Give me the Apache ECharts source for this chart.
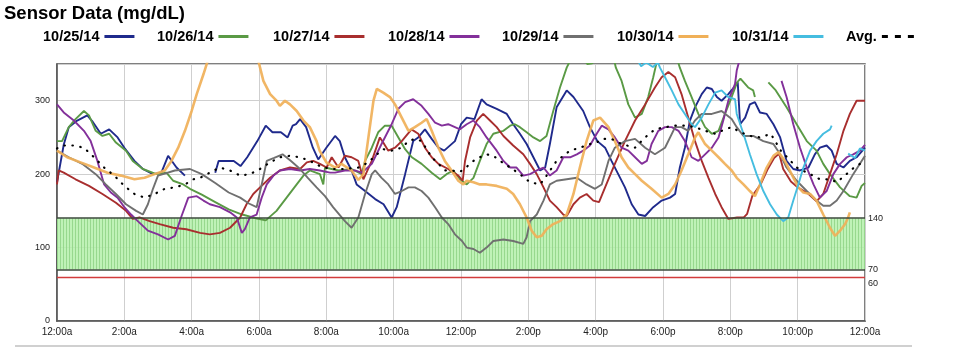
<!DOCTYPE html>
<html><head><meta charset="utf-8">
<script src="https://cdn.jsdelivr.net/npm/echarts/dist/echarts.min.js"></script>
<style>html,body{margin:0;padding:0;background:#fff}#c{width:955px;height:353px}</style>
</head><body><div id="c"></div>
<script>
// ---- data (hour of day, mg/dL); null = gap ----
const names = ['10/25/14','10/26/14','10/27/14','10/28/14','10/29/14','10/30/14','10/31/14','Avg.'];
const xTickLabels = ['12:00a','2:00a','4:00a','6:00a','8:00a','10:00a','12:00p','2:00p','4:00p','6:00p','8:00p','10:00p','12:00a'];
const bandLow = 70, bandHigh = 140, lowLimit = 60;

const s1025 = [[0,189],[0.2,240],[0.35,264],[0.6,273],[0.9,280],[1.05,272],[1.3,255],[1.55,261],[1.8,250],[2.0,236],[2.3,218],[2.55,207],[2.85,200],[3.1,202],[3.3,225],[3.55,209],[3.8,198],null,
[4.7,202],[4.8,218],[5.25,218],[5.45,211],[5.65,223],[5.95,245],[6.2,266],[6.4,257],[6.65,257],[6.85,250],[7.0,266],[7.1,268],[7.22,275],[7.4,264],[7.6,236],[7.76,220],[8.0,236],[8.26,252],[8.4,245],[8.55,223],[8.75,205],[8.9,186],[9.15,177],[9.45,166],[9.7,159],[9.94,141],[10.09,155],[10.34,200],[10.58,245],[10.73,250],[10.93,261],[11.13,248],[11.33,236],[11.5,232],[11.82,245],[12.0,268],[12.17,277],[12.4,275],[12.61,302],[12.76,295],[13.06,289],[13.36,282],[13.55,268],[13.75,255],[13.95,241],[14.15,223],[14.35,205],[14.5,209],[14.64,241],[14.84,291],[15.14,314],[15.34,305],[15.63,286],[15.83,264],[16.05,245],[16.28,236],[16.47,218],[16.67,200],[16.87,182],[17.07,159],[17.27,145],[17.47,143],[17.71,155],[17.96,164],[18.21,168],[18.36,173],[18.5,209],[18.65,236],[18.8,273],[18.95,291],[19.15,309],[19.3,318],[19.45,316],[19.6,305],[19.74,300],[19.94,309],[20.14,320],[20.22,325],[20.29,268],[20.44,277],[20.58,295],[20.73,298],[20.88,284],[21.08,282],[21.28,268],[21.48,250],[21.67,218],[21.87,207],[22.07,205],[22.32,209],[22.51,227],[22.66,236],[22.86,239],[23.01,232],[23.16,214],[23.36,209],[23.55,218],[23.75,223],[24,236]];

const s1026 = [[0,245],[0.15,245],[0.35,264],[0.55,275],[0.8,286],[0.95,280],[1.15,259],[1.35,252],[1.55,255],[1.75,243],[2.05,232],[2.25,218],[2.55,207],[2.95,200],[3.25,202],[3.45,191],[3.75,186],[3.95,180],[4.3,172],[4.7,162],[5.1,152],[5.5,145],[5.9,140],[6.2,137],[6.52,150],[6.82,168],[7.12,186],[7.32,198],[7.51,205],[7.81,200],[7.91,186],[7.96,209],[8.36,205],[8.75,207],[9.05,200],[9.15,218],[9.35,236],[9.54,257],[9.74,266],[9.94,266],[10.14,250],[10.34,234],[10.54,223],[10.83,214],[11.13,202],[11.38,193],[11.57,200],[11.77,205],[11.97,193],[12.17,186],[12.37,195],[12.56,218],[12.76,241],[12.96,255],[13.26,259],[13.46,266],[13.6,268],[13.75,264],[13.95,257],[14.15,250],[14.35,245],[14.54,252],[14.74,286],[14.94,318],[15.14,345],[15.3,360],[15.6,360],[15.75,350],[15.9,351],[16.1,365],[16.5,365],[16.6,345],[16.77,327],[16.97,295],[17.17,277],[17.37,282],[17.56,305],[17.71,332],[17.85,360],[18.4,360],[18.5,345],[18.65,327],[18.85,305],[19.05,282],[19.25,264],[19.45,255],[19.65,259],[19.84,282],[20.04,305],[20.2,325],[20.3,330],[20.53,318],[20.68,314],[20.73,305],null,
[21.13,325],[21.35,314],[21.67,291],[21.97,268],[22.27,245],[22.56,232],[22.76,214],[22.96,200],[23.26,182],[23.55,170],[23.75,168],[23.9,184],[24,188]];

const s1027 = [[0,186],[0.05,205],[0.2,202],[0.55,193],[0.95,184],[1.35,173],[1.75,161],[2.05,150],[2.25,139],[2.45,141],[2.75,136],[3.05,132],[3.45,127],[3.84,125],[4.25,120],[4.54,118],[4.84,120],[5.14,127],[5.44,141],[5.63,159],[5.83,173],[6.03,182],[6.33,195],[6.62,205],[6.92,209],[7.22,207],[7.42,216],[7.61,218],[7.81,214],[8.01,209],[8.16,223],[8.36,209],[8.55,225],[8.75,223],[8.95,218],[9.1,193],[9.35,218],[9.59,250],[9.69,243],[9.84,232],[10.04,236],[10.24,245],[10.53,261],[10.73,255],[10.93,236],[11.13,223],[11.33,214],[11.62,207],[11.92,198],[12.05,191],[12.12,218],[12.27,250],[12.47,273],[12.66,282],[12.86,273],[13.06,264],[13.26,252],[13.55,239],[13.85,227],[14.05,214],[14.25,200],[14.45,182],[14.64,164],[14.84,155],[15.04,145],[15.14,143],[15.34,159],[15.53,168],[15.73,173],[15.93,164],[16.1,162],[16.28,182],[16.57,214],[16.87,245],[17.17,273],[17.47,295],[17.76,318],[17.96,332],[18.16,339],[18.36,332],[18.55,309],[18.75,277],[18.95,245],[19.15,218],[19.35,195],[19.55,173],[19.74,155],[19.94,139],[20.2,141],[20.4,141],[20.5,146],[20.65,170],[20.9,186],[21.1,206],[21.3,222],[21.45,228],[21.57,207],[21.8,190],[22.0,182],[22.3,174],[22.56,163],[22.76,173],[22.96,200],[23.16,227],[23.36,259],[23.55,282],[23.75,300],[24,300]];

const s1028 = [[0,295],[0.2,284],[0.5,273],[0.8,259],[1.0,245],[1.2,218],[1.4,186],[1.6,175],[1.8,168],[2.0,155],[2.2,145],[2.4,136],[2.7,123],[3.0,118],[3.3,111],[3.5,116],[3.7,143],[3.9,168],[4.15,170],[4.35,164],[4.54,159],[4.84,155],[5.14,148],[5.34,141],[5.49,120],[5.58,125],[5.73,141],[5.93,145],[6.08,168],[6.23,186],[6.43,198],[6.62,205],[6.92,207],[7.22,205],[7.51,207],[7.81,205],[8.11,202],[8.26,202],[8.55,205],[8.85,205],[9.05,202],[9.35,214],[9.64,241],[9.94,268],[10.14,289],[10.34,298],[10.58,302],[10.83,293],[11.03,282],[11.23,270],[11.43,266],[11.62,268],[11.82,264],[11.97,261],[12.17,268],[12.37,273],[12.56,264],[12.76,250],[13.06,232],[13.26,218],[13.46,209],[13.65,209],[13.85,198],[14.05,200],[14.25,205],[14.45,209],[14.64,198],[14.84,205],[15.04,223],[15.24,223],[15.44,227],[15.63,232],[15.83,239],[16.03,255],[16.18,266],[16.38,261],[16.57,250],[16.77,236],[16.97,232],[17.17,223],[17.37,214],[17.52,218],[17.66,241],[17.86,259],[18.06,264],[18.26,264],[18.46,259],[18.65,245],[18.85,223],[19.05,218],[19.25,227],[19.45,236],[19.65,250],[19.79,273],[19.94,300],[20.14,323],[20.19,341],[20.3,360],null,
[21.52,327],[21.67,305],[21.87,268],[22.07,236],[22.27,209],[22.47,186],[22.66,168],[22.86,177],[23.06,200],[23.26,214],[23.46,223],[23.65,227],[23.85,232],[24,240]];

const s1029 = [[0,232],[0.35,223],[0.75,214],[1.15,200],[1.45,186],[1.75,173],[2.05,159],[2.35,150],[2.55,145],[2.7,159],[2.85,180],[3.0,198],[3.15,200],[3.5,205],[3.95,207],[4.3,200],[4.7,188],[5.1,175],[5.44,168],[5.7,160],[5.93,155],[6.1,190],[6.23,218],[6.45,222],[6.7,227],[6.95,218],[7.22,207],[7.45,195],[7.71,182],[7.96,170],[8.2,155],[8.55,136],[8.75,127],[8.95,141],[9.15,173],[9.35,200],[9.45,205],[9.64,195],[9.84,186],[10.04,173],[10.24,177],[10.44,182],[10.63,182],[10.83,177],[11.03,168],[11.23,155],[11.43,141],[11.62,132],[11.82,118],[12.03,109],[12.17,100],[12.37,98],[12.56,93],[12.76,100],[12.96,109],[13.26,111],[13.55,109],[13.85,105],[13.95,114],[14.05,136],[14.25,145],[14.45,164],[14.64,186],[14.84,191],[15.14,193],[15.44,195],[15.73,186],[15.98,180],[16.18,186],[16.38,218],[16.57,236],[16.87,245],[17.17,248],[17.47,236],[17.76,227],[18.06,236],[18.36,264],[18.55,264],[18.75,259],[18.95,273],[19.15,282],[19.45,282],[19.74,286],[20.04,275],[20.19,264],[20.39,252],[20.68,252],[20.98,245],[21.28,241],[21.48,227],[21.67,209],[21.97,191],[22.27,177],[22.56,164],[22.76,157],[22.96,157],[23.16,164],[23.36,177],[23.65,200],[24,225]];

const s1030 = [[0,232],[0.3,223],[0.7,216],[1.1,209],[1.5,202],[1.9,198],[2.3,193],[2.6,195],[2.9,200],[3.2,205],[3.4,218],[3.6,236],[3.8,259],[4.0,286],[4.15,309],[4.35,336],[4.55,365],[4.7,400],[5.8,400],[5.95,360],[6.13,327],[6.33,309],[6.52,300],[6.62,293],[6.77,300],[6.92,295],[7.12,286],[7.32,273],[7.51,264],[7.71,245],[7.8,232],[8.0,216],[8.26,209],[8.45,214],[8.75,205],[8.95,192],[9.1,200],[9.25,250],[9.4,300],[9.5,316],[9.69,311],[9.89,305],[10.04,295],[10.24,277],[10.44,259],[10.63,264],[10.83,270],[10.98,275],[11.13,259],[11.33,236],[11.52,218],[11.72,205],[11.92,191],[12.07,186],[12.17,191],[12.37,189],[12.56,186],[12.76,186],[13.06,184],[13.36,180],[13.55,173],[13.75,159],[13.95,141],[14.1,123],[14.25,114],[14.4,116],[14.54,125],[14.74,132],[14.94,136],[15.14,145],[15.34,173],[15.53,209],[15.73,245],[15.93,273],[16.13,277],[16.38,264],[16.57,245],[16.77,223],[16.97,209],[17.17,200],[17.37,191],[17.66,180],[17.96,168],[18.16,173],[18.36,186],[18.55,205],[18.75,227],[18.95,250],[19.05,257],[19.25,241],[19.45,232],[19.65,223],[19.84,214],[20.04,205],[20.19,195],[20.39,186],[20.58,177],[20.73,170],[20.88,186],[21.08,209],[21.28,225],[21.43,230],[21.62,218],[21.82,200],[22.02,182],[22.17,175],[22.37,173],[22.56,164],[22.76,145],[22.96,127],[23.11,116],[23.26,123],[23.41,132],[23.5,141],[23.55,148]];

const s1031 = [[17.25,355],[17.35,347],[17.5,352],[17.7,346],[17.85,352],[17.91,345],[18.06,332],[18.26,314],[18.46,295],[18.65,282],[18.85,268],[18.95,264],[19.15,277],[19.35,295],[19.55,311],[19.74,314],[19.94,305],[20.14,302],[20.19,282],[20.39,255],[20.58,227],[20.78,200],[20.98,177],[21.18,159],[21.38,145],[21.57,136],[21.72,141],[21.87,164],[22.02,186],[22.17,209],[22.37,232],[22.56,245],[22.76,255],[22.96,261],[23.01,266],null,
[23.5,228],[23.7,222],[23.85,235],[24,232]];

const avg = [[0,235],[0.2,239],[0.5,239],[0.8,236],[1.1,223],[1.4,209],[1.7,198],[2.0,184],[2.3,173],[2.6,168],[2.9,173],[3.2,180],[3.5,182],[3.8,186],[4.05,193],[4.25,195],[4.54,202],[4.84,209],[5.14,205],[5.44,198],[5.73,200],[6.03,207],[6.33,216],[6.62,223],[6.92,225],[7.22,223],[7.51,218],[7.81,211],[8.11,207],[8.55,207],[8.95,209],[9.25,216],[9.45,225],[9.69,234],[9.94,232],[10.24,236],[10.44,245],[10.63,248],[10.83,245],[10.98,234],[11.13,223],[11.33,214],[11.52,205],[11.72,205],[11.97,203],[12.17,210],[12.37,218],[12.56,223],[12.76,227],[12.96,225],[13.16,218],[13.46,209],[13.75,200],[14.05,189],[14.35,186],[14.54,198],[14.84,218],[15.04,225],[15.24,232],[15.53,236],[15.83,241],[16.03,243],[16.18,248],[16.47,248],[16.77,241],[17.17,236],[17.47,250],[17.76,261],[18.06,264],[18.36,266],[18.65,266],[18.95,264],[19.25,259],[19.55,255],[19.84,261],[20.04,264],[20.3,257],[20.6,252],[20.9,250],[21.2,255],[21.5,232],[21.75,220],[21.97,209],[22.37,200],[22.66,193],[22.96,193],[23.16,189],[23.4,198],[23.7,210],[24,218]];

const seriesData = [s1025, s1026, s1027, s1028, s1029, s1030, s1031, avg];
const colors = ['#1f2a8c','#5a9a45','#a82e2e','#83309a','#707070','#f0b058','#45bde0','#000000'];

// ---- chart ----
const FONT = '"Liberation Sans", Arial, sans-serif';
const pts = a => a.map(p => p === null ? ['-','-'] : p);

const pc = document.createElement('canvas');
pc.width = 3; pc.height = 4;
const g = pc.getContext('2d');
g.fillStyle = 'rgba(180,240,170,0.85)'; g.fillRect(0,0,3,4);
g.fillStyle = 'rgba(145,212,135,0.85)'; g.fillRect(0,0,1,4);

const legendLeft = [38,152,268,383,497,612,727,841];
const dashIcon = 'path://M0,0h6v3h-6z M13,0h6v3h-6z M26,0h6v3h-6z';

const series = [{
  name: '_ref', type: 'line', data: [], z: 1, silent: true,
  markArea: { silent: true, itemStyle: { color: { image: pc, repeat: 'repeat' } },
    data: [[{ yAxis: bandLow }, { yAxis: bandHigh }]] },
  markLine: { symbol: 'none', silent: true,
    lineStyle: { color: '#3b4a3b', width: 1.5, type: 'solid' },
    label: { position: 'end', fontSize: 9, color: '#222', fontFamily: FONT, distance: 3 },
    data: [ { yAxis: bandHigh }, { yAxis: bandLow } ] }
}, {
  name: '_low', type: 'line', data: [], z: 2, silent: true,
  markLine: { symbol: 'none', silent: true,
    lineStyle: { color: '#d23c3c', width: 1.4, type: 'solid' },
    itemStyle: { color: '#d23c3c' },
    label: { position: 'end', fontSize: 9, color: '#222', fontFamily: FONT, distance: 3, offset: [0, 7] },
    data: [ { yAxis: lowLimit } ] }
}];
names.forEach((n, i) => {
  const isAvg = i === 7;
  series.push({
    name: n, type: 'line', data: pts(seriesData[i]), z: 3 + (isAvg ? 5 : 0),
    showSymbol: false, symbol: 'none', connectNulls: false, clip: true,
    color: colors[i],
    lineStyle: isAvg ? { color: '#000', width: 2.2, type: [0.5, 7.5], cap: 'round' }
                     : { color: colors[i], width: i === 5 ? 2.6 : 1.9, opacity: i === 5 ? 0.92 : 1 }
  });
});

const chart = echarts.init(document.getElementById('c'), null, { renderer: 'canvas' });
chart.setOption({
  animation: false,
  backgroundColor: '#fff',
  title: { text: 'Sensor Data (mg/dL)', left: -1, top: -1,
    textStyle: { fontFamily: FONT, fontWeight: 'bold', fontSize: 18.5, color: '#000' } },
  legend: names.map((n, i) => ({
    data: [n], left: legendLeft[i], top: 24, align: 'right', selectedMode: false,
    icon: i === 7 ? dashIcon : 'rect', itemWidth: i === 7 ? 32 : 30, itemHeight: 3,
    textStyle: { fontFamily: FONT, fontWeight: 'bold', fontSize: 14.5, color: '#000' }
  })),
  grid: { left: 57, right: 90, top: 64, bottom: 32, show: true, borderColor: '#555', borderWidth: 1.5, backgroundColor: 'transparent' },
  xAxis: { type: 'value', min: 0, max: 24, interval: 2,
    axisLine: { show: true, lineStyle: { color: '#555', width: 1.5 } },
    axisTick: { show: false },
    splitLine: { show: true, lineStyle: { color: '#cfcfcf', width: 1 } },
    axisLabel: { fontFamily: FONT, fontSize: 10, color: '#222', margin: 6,
      formatter: v => xTickLabels[Math.round(v / 2)] || '' } },
  yAxis: { type: 'value', min: 0, max: 350, interval: 100,
    axisLine: { show: true, lineStyle: { color: '#555', width: 1.5 } },
    axisTick: { show: false },
    splitLine: { show: true, lineStyle: { color: '#cfcfcf', width: 1 } },
    axisLabel: { fontFamily: FONT, fontSize: 9, color: '#222', margin: 7,
      formatter: v => (v % 100 === 0 ? String(v) : '') } },
  graphic: [{ type: 'line', silent: true, shape: { x1: 15, y1: 346, x2: 912, y2: 346 },
    style: { stroke: '#d0d0d0', lineWidth: 2 } }],
  series: series
});
</script></body></html>
